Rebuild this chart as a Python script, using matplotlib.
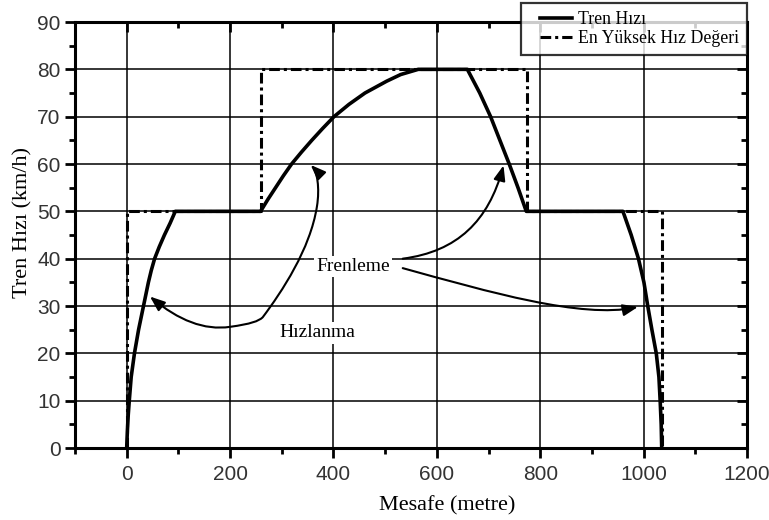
import matplotlib
matplotlib.use("Agg")
import matplotlib.pyplot as plt
from matplotlib.path import Path
from matplotlib.patches import FancyArrowPatch
from matplotlib.ticker import MultipleLocator
from matplotlib.legend_handler import HandlerLine2D

# ---- data ----
speed_x = [0, 0.7, 1.5, 3, 5, 8.7, 15, 23, 32.5, 42, 47.5, 54, 63, 73, 84, 94,
           259, 273, 288, 303, 319, 338, 358, 379, 401, 430, 461, 503, 530, 564,
           659, 683, 704, 722, 740, 757, 773,
           960, 976, 990, 1000.6, 1008, 1016, 1024.5, 1029.6, 1032, 1034, 1035]
speed_y = [0, 2, 4, 7, 10, 15, 20, 25, 30, 35, 37.5, 40, 42.5, 45, 47.5, 50,
           50, 52.5, 55, 57.5, 60, 62.5, 65, 67.5, 70, 72.6, 75, 77.5, 78.9, 80,
           80, 75, 70, 65, 60, 55, 50,
           50, 45, 40, 35, 30, 25, 20, 15, 10, 5, 0]

limit_x = [0, 0, 260, 260, 775, 775, 1035, 1035]
limit_y = [0, 50, 50, 80, 80, 50, 50, 0]

legend_labels = ["Tren Hızı", "En Yüksek Hız Değeri"]
x_label = "Mesafe (metre)"
y_label = "Tren Hızı (km/h)"
ann_brake = "Frenleme"
ann_accel = "Hızlanma"

x_ticks = [0, 200, 400, 600, 800, 1000, 1200]
y_ticks = [0, 10, 20, 30, 40, 50, 60, 70, 80, 90]

# annotation anchor points (data coords)
brake_text_xy = (438, 38.3)
accel_text_xy = (368, 24.3)
accel_path = [(45, 32), (100, 27), (150, 24.8), (200, 25.6),
              (240, 26.2), (255, 26.8), (263, 27.6),
              (300, 33), (355, 42), (368, 51),
              (374, 55), (368, 58.5), (356, 59.8)]
brake_up_path = [(534, 40), (640, 41.5), (700, 48), (729, 59.7)]
brake_down_path = [(534, 38), (700, 33), (880, 27.3), (989, 29.8)]

serif = ["Liberation Serif", "DejaVu Serif"]
sans = ["Liberation Sans", "DejaVu Sans"]

fig = plt.figure(figsize=(7.69, 5.20), dpi=100)
ax = fig.add_axes([75 / 769, 1 - 448 / 520, (747 - 75) / 769, (448 - 22) / 520])

ax.set_xlim(-100, 1200)
ax.set_ylim(0, 90)

ax.grid(True, color="black", linewidth=1.1)
ax.set_axisbelow(True)

l1, = ax.plot(speed_x, speed_y, color="black", linewidth=2.6, zorder=3)
l2, = ax.plot(limit_x, limit_y, color="black", linewidth=2.2,
              dashes=(3.5, 1.3, 1.0, 1.3), zorder=3)

ax.set_xticks(x_ticks)
ax.set_yticks(y_ticks)
ax.xaxis.set_minor_locator(MultipleLocator(100))
ax.yaxis.set_minor_locator(MultipleLocator(5))
ax.tick_params(which="both", direction="out", top=True, right=True, width=2,
               labelsize=15, labelcolor="#333333")
ax.tick_params(axis="x", which="major", pad=5)
ax.tick_params(which="major", length=7)
ax.tick_params(which="minor", length=4)
for lab in ax.get_xticklabels() + ax.get_yticklabels():
    lab.set_family(sans)
for t in ax.xaxis.get_major_ticks() + ax.xaxis.get_minor_ticks():
    t.tick2line.set_marker(3)  # inward from top
for t in ax.yaxis.get_major_ticks() + ax.yaxis.get_minor_ticks():
    t.tick2line.set_marker(0)  # inward from right

for sp in ax.spines.values():
    sp.set_linewidth(2.2)

ax.set_xlabel(x_label, fontsize=16, family=serif)
ax.set_ylabel(y_label, fontsize=16, family=serif)
ax.xaxis.set_label_coords((447 - 75) / (747 - 75), -(496 - 448) / (448 - 22))
ax.yaxis.set_label_coords(-(75 - 32) / (747 - 75), (448 - 222) / (448 - 22))

# annotations
ax.text(*brake_text_xy, ann_brake, fontsize=14, family=serif, ha="center", va="center",
        zorder=5, bbox=dict(facecolor="white", edgecolor="none", pad=1.5))
ax.text(*accel_text_xy, ann_accel, fontsize=14, family=serif, ha="center", va="center",
        zorder=5, bbox=dict(facecolor="white", edgecolor="none", pad=1.5))


def bez(points):
    codes = [Path.MOVETO] + [Path.CURVE4] * (len(points) - 1)
    return Path(points, codes)


ax.add_patch(FancyArrowPatch(path=bez(accel_path), arrowstyle="<|-|>,head_length=0.9,head_width=0.35",
                             mutation_scale=10, color="black", lw=1.5, zorder=4))
ax.add_patch(FancyArrowPatch(path=bez(brake_up_path), arrowstyle="-|>,head_length=0.9,head_width=0.35",
                             mutation_scale=10, color="black", lw=1.5, zorder=4))
ax.add_patch(FancyArrowPatch(path=bez(brake_down_path), arrowstyle="-|>,head_length=0.9,head_width=0.35",
                             mutation_scale=10, color="black", lw=1.5, zorder=4))

leg = fig.legend([l1, l2], legend_labels, loc="upper right",
                 bbox_to_anchor=(747 / 769, 1 - 3 / 520), frameon=True, fancybox=False,
                 prop=dict(family=serif, size=12.8), handlelength=2.45, handletextpad=0.33,
                 borderpad=0.45, labelspacing=0.1, borderaxespad=0,
                 handler_map={l1: HandlerLine2D(xpad=0.62), l2: HandlerLine2D(xpad=0.62)})
leg.get_frame().set_edgecolor("black")
leg.get_frame().set_linewidth(1.6)
leg.set_zorder(10)

fig.savefig("out.png", dpi=100)
